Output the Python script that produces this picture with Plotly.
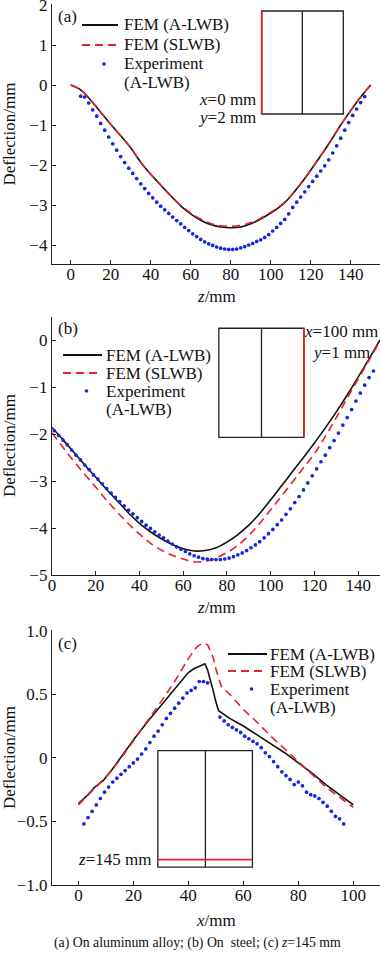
import plotly.graph_objects as go

# ---------------- Panel (a) data ----------------
a_fem_z = [0, 5, 10, 15, 20, 25, 30, 35, 40, 45, 50, 55, 60, 65, 70, 75, 80, 85, 90, 95,
           100, 105, 110, 115, 120, 125, 130, 135, 140, 145, 150]
a_fem_alwb = [0, -0.12, -0.38, -0.68, -0.98, -1.27, -1.57, -1.93, -2.23, -2.5, -2.77, -3.02,
              -3.22, -3.38, -3.49, -3.55, -3.57, -3.55, -3.47, -3.35, -3.2, -3.03, -2.78,
              -2.47, -2.13, -1.77, -1.4, -1.0, -0.64, -0.3, 0]
a_fem_slwb = [0, -0.12, -0.38, -0.68, -0.98, -1.27, -1.57, -1.93, -2.23, -2.5, -2.77, -3.01,
              -3.2, -3.35, -3.46, -3.52, -3.53, -3.51, -3.44, -3.33, -3.18, -3.01, -2.77,
              -2.46, -2.12, -1.76, -1.39, -1.0, -0.64, -0.3, 0]
a_exp_z = [5, 7, 9, 11, 13, 15, 17, 19, 21, 23, 25, 27, 29, 31, 33, 35, 37, 39, 41, 43, 45,
           47, 49, 51, 53, 55, 57, 59, 61, 63, 65, 67, 69, 71, 73, 75, 77, 79, 81, 83, 85,
           87, 89, 91, 93, 95, 97, 99, 101, 103, 105, 107, 109, 111, 113, 115, 117, 119,
           121, 123, 125, 127, 129, 131, 133, 135, 137, 139, 141, 143, 145, 147]
a_exp = [-0.28, -0.30, -0.45, -0.62, -0.78, -0.96, -1.13, -1.30, -1.47, -1.63, -1.79, -1.94,
         -2.08, -2.21, -2.34, -2.47, -2.59, -2.71, -2.82, -2.93, -3.03, -3.12, -3.21, -3.30,
         -3.39, -3.47, -3.56, -3.64, -3.72, -3.79, -3.86, -3.92, -3.97, -4.01, -4.05, -4.08,
         -4.10, -4.11, -4.11, -4.10, -4.07, -4.04, -4.00, -3.96, -3.91, -3.87, -3.81, -3.74,
         -3.65, -3.56, -3.46, -3.36, -3.22, -3.06, -2.93, -2.80, -2.67, -2.54, -2.41, -2.28,
         -2.15, -2.02, -1.87, -1.70, -1.52, -1.33, -1.13, -0.94, -0.76, -0.60, -0.44, -0.29]

# ---------------- Panel (b) data ----------------
b_fem_z = [0, 5, 10, 15, 20, 25, 30, 35, 40, 45, 50, 55, 60, 65, 70, 75, 80, 85, 90, 95,
           100, 105, 110, 115, 120, 125, 130, 135, 140, 145, 150]
b_fem_alwb = [-1.86, -2.12, -2.39, -2.66, -2.92, -3.18, -3.43, -3.68, -3.9, -4.08, -4.23,
              -4.35, -4.44, -4.49, -4.48, -4.42, -4.30, -4.14, -3.94, -3.69, -3.40, -3.10,
              -2.80, -2.50, -2.19, -1.87, -1.53, -1.17, -0.79, -0.40, 0]
b_fem_slwb = [-1.98, -2.28, -2.58, -2.86, -3.13, -3.41, -3.67, -3.91, -4.13, -4.32, -4.47,
              -4.58, -4.66, -4.72, -4.71, -4.64, -4.52, -4.37, -4.16, -3.90, -3.61, -3.32,
              -3.02, -2.72, -2.42, -2.05, -1.65, -1.24, -0.83, -0.43, -0.02]
b_exp_z = [1, 3, 5, 7, 9, 11, 13, 15, 17, 19, 21, 23, 25, 27, 29, 31, 33, 35, 37, 39, 41,
           43, 45, 47, 49, 51, 53, 55, 57, 59, 61, 63, 65, 67, 69, 71, 73, 75, 77, 79, 81,
           83, 85, 87, 89, 91, 93, 95, 97, 99, 101, 103, 105, 107, 109, 111, 113, 115, 117,
           119, 121, 123, 125, 127, 129, 131, 133, 135, 137, 139, 141, 143, 145, 147]
b_exp = [-1.93, -2.03, -2.13, -2.23, -2.34, -2.45, -2.55, -2.66, -2.76, -2.87, -2.96, -3.06,
         -3.16, -3.26, -3.35, -3.44, -3.53, -3.62, -3.70, -3.78, -3.86, -3.94, -4.01, -4.08,
         -4.15, -4.21, -4.28, -4.34, -4.40, -4.45, -4.50, -4.55, -4.59, -4.62, -4.65, -4.66,
         -4.67, -4.67, -4.67, -4.66, -4.64, -4.61, -4.57, -4.53, -4.48, -4.42, -4.36, -4.29,
         -4.21, -4.12, -4.03, -3.93, -3.83, -3.71, -3.59, -3.46, -3.33, -3.19, -3.04, -2.89,
         -2.74, -2.59, -2.45, -2.29, -2.14, -1.98, -1.81, -1.65, -1.48, -1.30, -1.13, -0.96,
         -0.80, -0.66]

# ---------------- Panel (c) data ----------------
c_alwb_x = [0, 3, 6, 9, 12, 15, 20, 25, 30, 35, 40, 42, 46, 47, 48, 49, 50, 51, 55, 60, 65,
            70, 75, 80, 85, 90, 95, 100]
c_alwb = [-0.36, -0.30, -0.23, -0.18, -0.10, -0.01, 0.14, 0.28, 0.41, 0.54, 0.67, 0.70,
          0.74, 0.69, 0.62, 0.53, 0.44, 0.37, 0.31, 0.25, 0.18, 0.11, 0.04, -0.04, -0.12,
          -0.21, -0.29, -0.37]
c_slwb_x = [0, 5, 10, 15, 20, 25, 30, 35, 40, 43, 45, 47, 49, 50, 52, 55, 60, 65, 70, 75,
            80, 85, 90, 95, 100]
c_slwb = [-0.37, -0.26, -0.15, -0.02, 0.13, 0.29, 0.44, 0.60, 0.78, 0.87, 0.90, 0.89, 0.79,
          0.70, 0.56, 0.50, 0.38, 0.28, 0.17, 0.07, -0.03, -0.13, -0.23, -0.31, -0.39]
c_exp_x = [2, 3.5, 5, 6.5, 8, 9.5, 11, 12.5, 14, 15.5, 17, 18.5, 20, 21.5, 23, 24.5, 26,
           27.5, 29, 30.5, 32, 33.5, 35, 36.5, 38, 39.5, 41, 42.5, 44, 45.5, 47, 51.5, 53,
           54.5, 56, 57.5, 59, 60.5, 62, 63.5, 65, 66.5, 68, 69.5, 71, 72.5, 74, 75.5, 77,
           78.5, 80, 81.5, 83, 84.5, 86, 87.5, 89, 90.5, 92, 93.5, 95, 96.5]
c_exp = [-0.52, -0.47, -0.42, -0.37, -0.32, -0.27, -0.23, -0.19, -0.16, -0.13, -0.10,
         -0.07, -0.04, -0.01, 0.03, 0.07, 0.12, 0.17, 0.21, 0.26, 0.31, 0.35, 0.39, 0.43,
         0.47, 0.51, 0.53, 0.55, 0.60, 0.60, 0.59, 0.32, 0.29, 0.26, 0.24, 0.22, 0.20, 0.17,
         0.15, 0.13, 0.11, 0.08, 0.04, 0.01, -0.03, -0.07, -0.11, -0.14, -0.17, -0.21,
         -0.19, -0.22, -0.27, -0.29, -0.30, -0.32, -0.35, -0.38, -0.42, -0.46, -0.48, -0.52]

# ---------------- Axis ticks ----------------
a_xticks = [0, 20, 40, 60, 80, 100, 120, 140]
a_yticks = [-4, -3, -2, -1, 0, 1, 2]
b_xticks = [0, 20, 40, 60, 80, 100, 120, 140]
b_yticks = [-5, -4, -3, -2, -1, 0]
c_xticks = [0, 20, 40, 60, 80, 100]
c_yticks = [-1.0, -0.5, 0, 0.5, 1.0]
c_yticklabels = ["\u22121.0", "\u22120.5", "0", "0.5", "1.0"]

legend_names = ["FEM (A-LWB)", "FEM (SLWB)", "Experiment", "(A-LWB)"]

BLACK = "#111111"
RED = "#e8202a"
BLUE = "#1428d8"
FONT = "Liberation Serif, Times New Roman, serif"
FS = 17
W, H = 380, 956

fig = go.Figure()


def add_panel(idx, xs_a, ys_a, xs_s, ys_s, xs_e, ys_e, shape):
    xa = "x" if idx == 1 else f"x{idx}"
    ya = "y" if idx == 1 else f"y{idx}"
    fig.add_trace(go.Scatter(x=xs_a, y=ys_a, mode="lines", name="FEM (A-LWB)",
                             line=dict(color=BLACK, width=1.6, shape=shape),
                             xaxis=xa, yaxis=ya, showlegend=False))
    fig.add_trace(go.Scatter(x=xs_s, y=ys_s, mode="lines", name="FEM (SLWB)",
                             line=dict(color=RED, width=1.6, dash="8px,5px", shape=shape),
                             xaxis=xa, yaxis=ya, showlegend=False))
    fig.add_trace(go.Scatter(x=xs_e, y=ys_e, mode="markers", name="Experiment (A-LWB)",
                             marker=dict(color=BLUE, size=3.7),
                             xaxis=xa, yaxis=ya, showlegend=False))


add_panel(1, a_fem_z, a_fem_alwb, a_fem_z, a_fem_slwb, a_exp_z, a_exp, "spline")
add_panel(2, b_fem_z, b_fem_alwb, b_fem_z, b_fem_slwb, b_exp_z, b_exp, "spline")
add_panel(3, c_alwb_x, c_alwb, c_slwb_x, c_slwb, c_exp_x, c_exp, "linear")


def py(px):
    return 1 - px / H


def px_x(px):
    return px / W


XDOM = [px_x(52), 1.0]
axis_common = dict(showline=True, linecolor="#222222", linewidth=1.3, ticks="inside",
                   ticklen=4, tickwidth=1.2, tickcolor="#222222", showgrid=False,
                   zeroline=False, mirror=False, automargin=False,
                   ticklabeloverflow="allow",
                   tickfont=dict(family=FONT, size=FS, color="#111111"))
xaxis_common = dict(ticklabelstandoff=-6, **axis_common)

layout = dict(
    width=W, height=H, margin=dict(l=0, r=0, t=0, b=0, autoexpand=False),
    paper_bgcolor="white", plot_bgcolor="white", showlegend=False,
    font=dict(family=FONT, size=FS, color="#111111"),
    xaxis=dict(domain=XDOM, anchor="y", range=[-9.35, 154.65], tickvals=a_xticks, **xaxis_common),
    yaxis=dict(domain=[py(264), py(4)], anchor="x", range=[-4.475, 2.025], tickvals=a_yticks, **axis_common),
    xaxis2=dict(domain=XDOM, anchor="y2", range=[0, 150], tickvals=b_xticks, **xaxis_common),
    yaxis2=dict(domain=[py(575), py(316.5)], anchor="x2", range=[-5, 0.5], tickvals=b_yticks, **axis_common),
    xaxis3=dict(domain=XDOM, anchor="y3", range=[-9.6, 109.7], tickvals=c_xticks, **xaxis_common),
    yaxis3=dict(domain=[py(885), py(630)], anchor="x3", range=[-1, 1.005], tickvals=c_yticks,
                ticktext=c_yticklabels, **axis_common),
)
fig.update_layout(**layout)


# ---- inset schematics (decorations) ----
def rect(xr, yr, x0, x1, y0, y1, color="#222222", w=1.3):
    fig.add_shape(type="rect", xref=xr, yref=yr, x0=x0, x1=x1, y0=y0, y1=y1,
                  line=dict(color=color, width=w), fillcolor="rgba(0,0,0,0)")


def seg(xr, yr, x0, x1, y0, y1, color="#222222", w=1.3, dash="solid"):
    fig.add_shape(type="line", xref=xr, yref=yr, x0=x0, x1=x1, y0=y0, y1=y1,
                  line=dict(color=color, width=w, dash=dash))


# panel a inset
rect("x", "y", 95.5, 136.3, -0.725, 1.85)
seg("x", "y", 115.8, 115.8, -0.725, 1.85)
seg("x", "y", 95.5, 95.5, -0.725, 1.85, RED, 1.8)
# panel b inset
rect("x2", "y2", 76.3, 115.2, -2.07, 0.25)
seg("x2", "y2", 95.8, 95.8, -2.07, 0.25)
seg("x2", "y2", 115.2, 115.2, -2.07, 0.25, RED, 1.8)
# panel c inset
rect("x3", "y3", 28.9, 63.3, -0.86, 0.057)
seg("x3", "y3", 46.2, 46.2, -0.86, 0.057)
seg("x3", "y3", 28.9, 63.3, -0.80, -0.80, RED, 1.8)


def ann(text, x, y, size=FS, xanchor="center", yanchor="middle", angle=0):
    fig.add_annotation(text=text, x=px_x(x), y=py(y), xref="paper", yref="paper",
                       showarrow=False, xanchor=xanchor, yanchor=yanchor, textangle=angle,
                       font=dict(family=FONT, size=size, color="#111111"))


# ---- legends drawn per panel ----
def legend_block(x0, x1, tx, rows):
    y1, y2, y3, y4 = rows
    seg("paper", "paper", px_x(x0), px_x(x1), py(y1), py(y1), BLACK, 1.8)
    seg("paper", "paper", px_x(x0), px_x(x1), py(y2), py(y2), RED, 1.8, "8px,5px")
    cx = (x0 + x1) / 2 + 4
    fig.add_shape(type="circle", xref="paper", yref="paper",
                  x0=px_x(cx - 1.8), x1=px_x(cx + 1.8), y0=py(y3 + 1.8), y1=py(y3 - 1.8),
                  fillcolor=BLUE, line=dict(width=0))
    for name, yy in zip(legend_names, rows):
        ann(name, tx, yy, xanchor="left")


legend_block(82, 118, 122, [25, 45, 64, 83])
legend_block(63, 102, 104, [355, 373, 391, 409])
legend_block(228, 267, 268, [654, 671, 689, 707])

ann("(a)", 56, 16, xanchor="left")
ann("(b)", 56, 328, xanchor="left")
ann("(c)", 56, 643, xanchor="left")
ann("<i>x</i>=0 mm", 258, 99, xanchor="right")
ann("<i>y</i>=2 mm", 258, 117, xanchor="right")
ann("<i>x</i>=100 mm", 380, 331, xanchor="right")
ann("<i>y</i>=1 mm", 372, 352, xanchor="right")
ann("<i>z</i>=145 mm", 76, 859, xanchor="left")

for yc in [134.5, 446, 758]:
    ann("Deflection/mm", 9, yc, angle=-90)
ann("<i>z</i>/mm", 216, 296)
ann("<i>z</i>/mm", 216, 607)
ann("<i>x</i>/mm", 216, 920)
ann("(a) On aluminum alloy; (b) On  steel; (c) <i>z</i>=145 mm", 198, 943, size=13.8)

# remove the default 8 px page margin so the 380x956 figure fills the window exactly
fig.write_html("out.html", config={"displayModeBar": False},
               post_script="document.body.style.margin='0';document.body.style.overflow='hidden';")
